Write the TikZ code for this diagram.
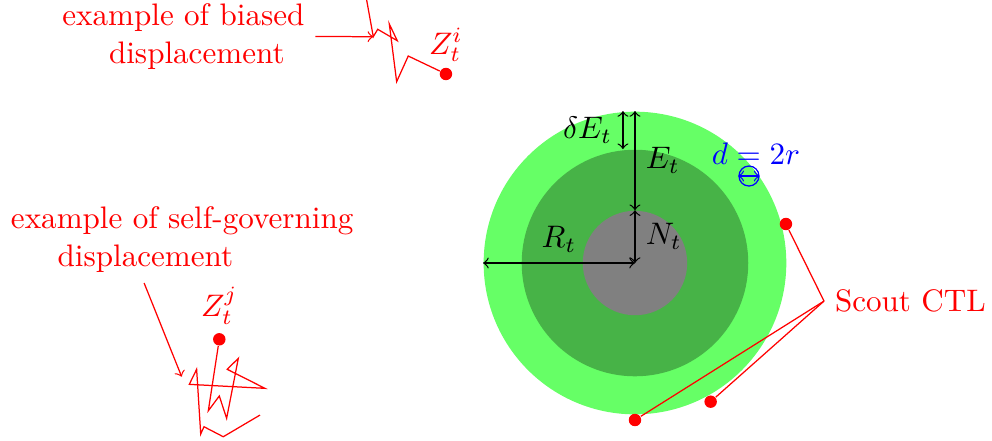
\documentclass[tikz,border=0pt]{standalone}
\usetikzlibrary{positioning}
\definecolor{ringouter}{HTML}{66FF66}
\definecolor{ringmid}{HTML}{47B347}
\definecolor{ringcore}{HTML}{808080}

\begin{document}
\begin{tikzpicture}[font=\normalsize,>=to,
   ring/.style={circle,inner sep=0pt,draw=none},
   dot/.style={circle,fill=red,inner sep=0pt,minimum size=4pt},
   walk/.style={red},
   note/.style={red,align=left,anchor=west}]
  \useasboundingbox (-7.175,-2.011) rectangle (4.034,2.972);
  % nested regions centred at the origin, radii 1.71 / 1.28 / 0.59

  % ---- regions ----
  \node[ring,fill=ringouter,minimum size=3.42cm] (outer) at (0,0) {};
  \node[ring,fill=ringmid,minimum size=2.56cm] (mid) at (0,0) {};
  \node[ring,fill=ringcore,minimum size=1.18cm] (core) at (0,0) {};
  \coordinate (ctr) at (0,0);

  % ---- radii ----
  \draw[<->] (outer.west) -- node[above] {$R_t$} (ctr);
  \draw[<->] (outer.north) -- node[right] {$E_t$} (core.north);
  \draw[<->] (core.north) -- node[right] {$N_t$} (ctr);
  \draw[<->] ([xshift=-1.36mm]outer.north) -- node[left] {$\delta E_t$} ([xshift=-1.36mm]mid.north);

  % ---- scout size ----
  \node[blue] (dlabel) at (1.367,1.232) {$d=2r$};
  \node[circle,draw=blue,inner sep=0pt,minimum size=2.26mm] (scout) at (1.288,0.983) {};
  \draw[blue,<->] (scout.west) -- (scout.east);

  % ---- scouts on the border ----
  \node[red,anchor=west] (ctl) at (2.136,-0.43) {Scout CTL};
  \node[dot] (s1) at (1.706,0.441) {};
  \node[dot] (s2) at (0.855,-1.567) {};
  \node[dot] (s3) at (0,-1.774) {};
  \foreach \s in {s1,s2,s3}
    \draw[red] (ctl.west) -- (\s);

  % ---- biased walk ----
  \node[dot] (zi) at (-2.136,2.136) {};
  \node[red,above=1.5pt of zi,inner sep=0pt] (zilabel) {$Z_t^i$};
  \draw[walk] (zi) -- (-2.562,2.339) -- (-2.693,2.049) -- (-2.776,2.701) -- (-2.686,2.512)
     -- (-2.907,2.641) -- (-2.957,2.557) coordinate (bhit) -- (-3.032,2.972);
  \node[note] (biased) at (-6.594,2.56) {example of biased\\\hspace*{15pt}displacement};
  \draw[red,->] (biased.east) -- (bhit);

  % ---- self-governing walk ----
  \node[dot] (zj) at (-4.697,-0.862) {};
  \node[red,above=2.5pt of zj,inner sep=0pt] (zjlabel) {$Z_t^j$};
  \draw[walk] (zj) -- (-4.821,-1.669) -- (-4.697,-1.503) -- (-4.614,-1.755) -- (-4.482,-1.077)
     -- (-4.607,-1.201) -- (-4.181,-1.416) -- (-5.036,-1.371) -- (-4.953,-1.201)
     -- (-4.907,-1.932) -- (-4.870,-1.850) -- (-4.652,-1.963) -- (-4.237,-1.718);
  \node[note] (selfgov) at (-7.175,0.267) {example of self-governing\\\hspace*{15pt}displacement};
  \coordinate (sghit) at (-5.122,-1.285);
  \draw[red,->] ([xshift=-4.3mm]selfgov.south) -- (sghit);
\end{tikzpicture}
\end{document}
